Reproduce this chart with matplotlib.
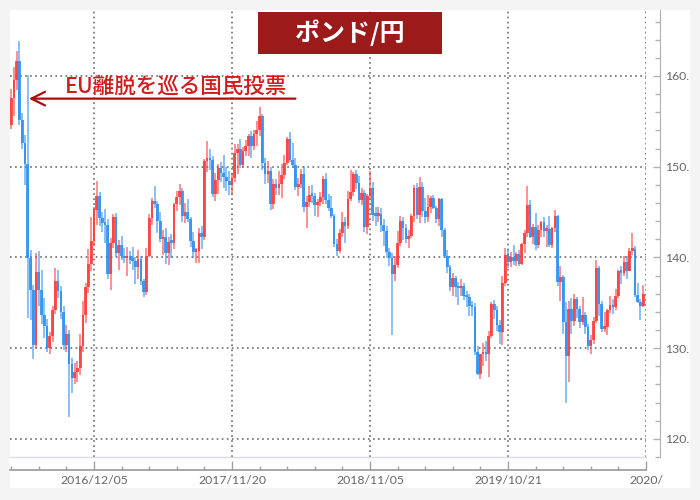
import matplotlib
matplotlib.use('Agg')
import matplotlib.pyplot as plt
import matplotlib.dates as mdates
from matplotlib.patches import Rectangle
import pandas as pd

plt.rcParams['font.family'] = ['Lato', 'Noto Sans CJK JP', 'DejaVu Sans']

# weekly GBP/JPY candles, first week 2016-05-09
start_week = '2016-05-09'

opens = [
    154.6, 157.6, 159.5, 161.6, 155.2, 152.6, 150.3, 139.9, 136.4, 130.4,
    138.4, 136.4, 133.6, 132.4, 130.0, 131.3, 134.2, 137.4, 136.3, 134.0,
    130.4, 131.6, 128.3, 126.7, 127.4, 127.8, 130.2, 133.6, 136.7, 139.3,
    141.8, 145.2, 146.8, 144.3, 143.8, 143.6, 138.2, 141.6, 144.4, 140.5,
    141.4, 140.2, 139.9, 140.2, 139.7, 139.6, 138.9, 139.8, 137.4, 136.2,
    140.2, 144.3, 146.2, 145.9, 144.0, 142.0, 142.2, 140.5, 141.7, 141.6,
    145.9, 146.7, 147.3, 144.6, 145.0, 144.2, 141.8, 140.6, 140.7, 142.7,
    142.2, 150.6, 151.0, 150.7, 147.0, 148.5, 149.8, 149.3, 148.9, 148.4,
    148.0, 148.7, 151.5, 151.9, 150.2, 151.7, 152.3, 153.4, 152.3, 153.6,
    154.0, 155.6, 150.4, 149.2, 149.5, 145.9, 148.1, 147.7, 148.1, 149.1,
    150.4, 153.0, 150.7, 150.2, 147.8, 148.1, 149.2, 145.6, 146.1, 146.9,
    146.8, 145.8, 146.1, 146.7, 148.6, 146.3, 145.5, 144.6, 141.5, 140.7,
    142.7, 143.9, 143.5, 146.4, 147.2, 149.2, 148.2, 146.3, 147.1, 143.3,
    146.8, 147.6, 144.7, 144.6, 144.8, 143.6, 142.9, 140.6, 139.9, 138.2,
    139.2, 141.6, 144.0, 143.2, 142.0, 142.4, 144.6, 147.6, 144.7, 147.8,
    145.1, 144.4, 145.6, 146.5, 145.5, 144.2, 146.4, 143.0, 140.2, 138.9,
    136.7, 137.7, 136.7, 136.6, 136.9, 135.8, 135.6, 134.6, 134.5, 129.6,
    127.1, 129.3, 129.5, 129.3, 131.3, 134.9, 134.2, 132.6, 131.8, 137.2,
    140.3, 139.5, 140.0, 139.6, 140.4, 139.3, 141.5, 142.7, 145.8, 142.3,
    143.3, 141.4, 143.0, 143.9, 142.9, 143.1, 141.4, 143.2, 144.6, 137.3,
    137.8, 132.9, 129.1, 134.3, 133.0, 135.4, 134.3, 132.9, 133.7, 132.3,
    130.2, 130.9, 133.0, 138.8, 134.9, 132.1, 132.3, 134.2, 134.8, 134.5,
    135.7, 138.5, 138.3, 139.5, 138.5, 140.7, 140.9, 135.9, 135.1, 134.6,
]
highs = [
    158.6, 161.0, 162.8, 163.9, 155.9, 153.5, 160.1, 140.8, 137.0, 140.5,
    140.7, 138.6, 135.5, 133.2, 131.8, 134.6, 138.8, 138.6, 136.8, 134.6,
    132.6, 132.0, 128.9, 128.4, 128.6, 131.6, 135.2, 137.2, 140.9, 144.5,
    145.6, 148.4, 147.2, 145.0, 145.3, 144.2, 142.1, 144.8, 144.9, 141.9,
    142.4, 141.0, 141.1, 140.7, 141.1, 140.0, 140.8, 140.2, 137.6, 141.0,
    144.8, 146.5, 147.9, 146.2, 145.0, 143.0, 143.2, 142.2, 142.6, 146.0,
    147.3, 148.1, 147.6, 146.0, 146.4, 144.4, 142.8, 141.0, 143.2, 143.5,
    150.9, 152.8, 152.0, 151.2, 149.3, 150.3, 150.5, 151.3, 150.0, 149.5,
    149.3, 152.5, 152.5, 153.0, 152.2, 152.9, 153.6, 153.9, 154.0, 155.0,
    156.6, 155.8, 151.0, 150.6, 150.0, 148.6, 148.6, 149.5, 150.3, 151.3,
    153.3, 153.8, 152.6, 151.0, 148.8, 149.7, 150.1, 146.8, 147.9, 148.0,
    147.1, 146.4, 147.2, 149.0, 149.3, 147.0, 146.8, 144.8, 142.0, 143.1,
    145.0, 144.5, 147.3, 149.6, 149.4, 149.6, 149.0, 147.6, 147.4, 147.0,
    149.5, 148.3, 145.6, 145.6, 145.5, 144.2, 143.5, 141.0, 140.5, 140.2,
    142.9, 144.6, 144.5, 143.7, 143.0, 144.8, 148.0, 148.2, 148.9, 148.3,
    146.6, 146.9, 146.8, 146.9, 145.7, 146.5, 146.6, 143.2, 140.8, 139.2,
    138.3, 138.0, 137.3, 137.6, 137.2, 136.3, 136.0, 135.2, 135.0, 130.2,
    129.4, 130.6, 130.8, 131.9, 135.1, 135.3, 134.6, 133.1, 137.9, 141.0,
    140.9, 140.6, 141.4, 140.6, 140.8, 141.6, 143.0, 147.9, 146.3, 143.7,
    144.9, 143.6, 144.0, 144.5, 143.6, 144.6, 143.3, 145.2, 144.7, 139.1,
    138.1, 135.1, 135.2, 135.5, 136.0, 135.6, 134.6, 135.6, 134.0, 132.7,
    131.5, 133.4, 139.7, 139.0, 135.2, 134.0, 134.3, 135.8, 135.4, 136.5,
    138.6, 139.0, 140.2, 140.2, 141.0, 142.7, 141.3, 137.2, 135.4, 137.0,
]
lows = [
    154.1, 155.6, 158.4, 154.6, 152.0, 148.0, 133.3, 133.1, 128.8, 130.0,
    134.6, 132.7, 131.1, 129.6, 129.3, 130.7, 133.8, 135.5, 133.2, 129.8,
    129.6, 122.4, 125.0, 126.0, 126.3, 127.0, 129.6, 132.8, 136.1, 138.5,
    141.3, 143.6, 143.5, 142.8, 141.6, 137.6, 136.4, 141.0, 140.0, 138.6,
    139.7, 139.4, 137.9, 139.3, 138.6, 137.1, 137.6, 137.0, 135.6, 135.9,
    140.0, 143.6, 145.4, 142.7, 141.7, 140.3, 139.3, 139.2, 139.9, 140.9,
    145.1, 145.8, 143.9, 143.8, 143.9, 141.1, 139.9, 139.4, 139.4, 140.9,
    141.9, 149.4, 149.6, 146.7, 146.2, 147.0, 148.3, 147.7, 147.3, 146.9,
    146.9, 148.3, 149.2, 149.8, 149.9, 151.2, 151.2, 151.0, 151.8, 152.3,
    153.4, 149.6, 148.1, 148.2, 145.2, 145.3, 146.9, 146.9, 146.5, 148.6,
    150.2, 150.5, 149.8, 147.4, 146.8, 147.6, 145.0, 143.2, 145.6, 146.0,
    144.6, 144.4, 145.7, 145.9, 145.9, 145.1, 144.3, 141.2, 140.2, 140.5,
    142.3, 141.6, 143.1, 146.2, 146.8, 147.5, 146.0, 145.8, 142.8, 142.6,
    146.3, 144.0, 143.5, 143.9, 142.8, 141.3, 139.9, 139.0, 131.5, 137.4,
    138.8, 141.3, 141.9, 141.6, 141.0, 142.1, 143.9, 144.2, 143.8, 144.4,
    143.8, 143.9, 144.9, 145.3, 143.8, 143.5, 142.3, 139.9, 138.3, 136.3,
    135.7, 135.6, 134.8, 135.8, 135.3, 134.5, 133.5, 133.5, 129.2, 127.0,
    126.6, 128.0, 128.6, 126.8, 131.1, 133.2, 131.9, 130.5, 130.4, 136.9,
    138.8, 138.9, 139.2, 139.1, 139.0, 139.2, 140.5, 142.2, 142.1, 141.5,
    140.8, 141.0, 142.2, 142.3, 141.1, 141.2, 141.0, 142.8, 136.9, 135.2,
    131.6, 124.0, 126.3, 131.6, 132.4, 133.3, 132.2, 132.5, 131.6, 129.8,
    129.3, 130.5, 132.8, 133.5, 131.8, 131.8, 131.5, 133.9, 133.8, 134.2,
    135.5, 137.1, 137.9, 137.6, 138.5, 140.3, 135.6, 135.0, 133.1, 134.5,
]
closes = [
    157.6, 159.5, 161.6, 155.2, 152.6, 150.3, 139.9, 136.4, 130.4, 138.4,
    136.4, 133.6, 132.4, 130.0, 131.3, 134.2, 137.4, 136.3, 134.0, 130.4,
    131.6, 128.3, 126.7, 127.4, 127.8, 130.2, 133.6, 136.7, 139.3, 141.8,
    145.2, 146.8, 144.3, 143.8, 143.6, 138.2, 141.6, 144.4, 140.5, 141.4,
    140.2, 139.9, 140.2, 139.7, 139.6, 138.9, 139.8, 137.4, 136.2, 140.2,
    144.3, 146.2, 145.9, 144.0, 142.0, 142.2, 140.5, 141.7, 141.6, 145.9,
    146.7, 147.3, 144.6, 145.0, 144.2, 141.8, 140.6, 140.7, 142.7, 142.2,
    150.6, 151.0, 150.7, 147.0, 148.5, 149.8, 149.3, 148.9, 148.4, 148.0,
    148.7, 151.5, 151.9, 150.2, 151.7, 152.3, 153.4, 152.3, 153.6, 154.0,
    155.6, 150.4, 149.2, 149.5, 145.9, 148.1, 147.7, 148.1, 149.1, 150.4,
    153.0, 150.7, 150.2, 147.8, 148.1, 149.2, 145.6, 146.1, 146.9, 146.8,
    145.8, 146.1, 146.7, 148.6, 146.3, 145.5, 144.6, 141.5, 140.7, 142.7,
    143.9, 143.5, 146.4, 147.2, 149.2, 148.2, 146.3, 147.1, 143.3, 146.8,
    147.6, 144.7, 144.6, 144.8, 143.6, 142.9, 140.6, 139.9, 138.2, 139.2,
    141.6, 144.0, 143.2, 142.0, 142.4, 144.6, 147.6, 144.7, 147.8, 145.1,
    144.4, 145.6, 146.5, 145.5, 144.2, 146.4, 143.0, 140.2, 138.9, 136.7,
    137.7, 136.7, 136.6, 136.9, 135.8, 135.6, 134.6, 134.5, 129.6, 127.1,
    129.3, 129.5, 129.3, 131.3, 134.9, 134.2, 132.6, 131.8, 137.2, 140.3,
    139.5, 140.0, 139.6, 140.4, 139.3, 141.5, 142.7, 145.8, 142.3, 143.3,
    141.4, 143.0, 143.9, 142.9, 143.1, 141.4, 143.2, 144.6, 137.3, 137.8,
    132.9, 129.1, 134.3, 133.0, 135.4, 134.3, 132.9, 133.7, 132.3, 130.2,
    130.9, 133.0, 138.8, 134.9, 132.1, 132.3, 134.2, 134.8, 134.5, 135.7,
    138.5, 138.3, 139.5, 138.5, 140.7, 140.9, 135.9, 135.1, 134.6, 136.0,
]

tick_dates = ['2016-12-05', '2017-11-20', '2018-11-05', '2019-10-21', '2020-10-05']
tick_labels = ['2016/12/05', '2017/11/20', '2018/11/05', '2019/10/21', '2020/']
y_ticks = [120, 130, 140, 150, 160]
y_labels = ['120.', '130.', '140.', '150.', '160.']
title = 'ポンド/円'
note = 'EU離脱を巡る国民投票'
vote_day = '2016-06-23'

up_col = '#ff3838'
down_col = '#2a8ef0'

dates = pd.date_range(start_week, periods=len(closes), freq='7D')
x = mdates.date2num(dates)
cols = [up_col if c >= o else down_col for o, c in zip(opens, closes)]

fig = plt.figure(figsize=(7, 5), dpi=100, facecolor='#f4f4f4')
fig.patches.append(Rectangle((10 / 700, 12 / 500), 680 / 700, 478 / 500,
                             transform=fig.transFigure, facecolor='white',
                             edgecolor='none', zorder=-5))

ax = fig.add_axes([10 / 700, 43 / 500, 636 / 700, 447 / 500])
ax.set_facecolor('none')

# candles
ax.vlines(x, lows, highs, colors=cols, linewidth=1.1, alpha=0.7, zorder=3)
bottoms = [min(o, c) for o, c in zip(opens, closes)]
heights = [max(abs(c - o), 0.3) for o, c in zip(opens, closes)]
ax.bar(x, heights, bottom=bottoms, width=6.8, color=cols, alpha=0.85,
       linewidth=0, zorder=4)

ax.set_xlim(mdates.date2num(pd.Timestamp('2016-05-06')),
            mdates.date2num(pd.Timestamp('2020-10-05')))
ax.set_ylim(118.02, 167.27)

# axes / ticks
ax.set_xticks(mdates.date2num(pd.to_datetime(tick_dates)))
ax.set_xticklabels(tick_labels)
ax.set_xticks(mdates.date2num(pd.date_range('2016-05-09', '2020-10-05', freq='70D')), minor=True)
ax.get_xticklabels()[-1].set_horizontalalignment('right')
ax.yaxis.tick_right()
ax.set_yticks(y_ticks)
ax.set_yticklabels(y_labels)
ax.set_yticks(range(118, 168, 2), minor=True)

ax.grid(True, which='major', color='#606060', linestyle=(0, (1.1, 2.2)), linewidth=1.1)

for s in ['top', 'left']:
    ax.spines[s].set_visible(False)
ax.spines['bottom'].set_position(('outward', 9))
ax.spines['right'].set_position(('outward', 10))
ax.spines['bottom'].set_color('#9a9a9a')
ax.spines['right'].set_color('#b0b0b0')
ax.spines['bottom'].set_linewidth(1.2)

ax.tick_params(axis='x', which='major', direction='in', length=6.5, width=1,
               color='#a0a0a0', labelsize=8.8, labelcolor='#666666', pad=4)
ax.tick_params(axis='x', which='minor', direction='in', length=3, width=1, color='#a0a0a0')
ax.tick_params(axis='y', which='major', direction='in', length=5, width=1,
               color='#b0b0b0', labelsize=8.8, labelcolor='#666666', pad=4)
ax.tick_params(axis='y', which='minor', direction='in', length=3.5, width=1, color='#b0b0b0')
ax.plot([0, 1], [0, 0], transform=ax.transAxes, color='#dcdce4', lw=1, clip_on=False)

# referendum marker
ax.annotate('', xy=(mdates.date2num(pd.Timestamp(vote_day)), 157.5),
            xytext=(mdates.date2num(pd.Timestamp('2018-04-30')), 157.5),
            arrowprops=dict(arrowstyle='->,head_length=0.7,head_width=0.35',
                            color='#a80f0f', lw=1.6, shrinkA=0, shrinkB=0,
                            mutation_scale=14), zorder=6)
fig.text(176 / 700, 1 - 87 / 500, note, color='#d41a1a', fontsize=15.5,
         ha='center', va='center', family=['Noto Sans CJK JP'], fontweight='medium')

# title box
fig.patches.append(Rectangle((258 / 700, 1 - 54 / 500), 184 / 700, 42 / 500,
                             transform=fig.transFigure, facecolor='#9d1a1a',
                             edgecolor='none', zorder=5))
fig.text(350 / 700, 1 - 33 / 500, title, color='white', fontsize=18,
         fontweight='bold', ha='center', va='center', family=['Noto Sans CJK JP'],
         zorder=6)

fig.savefig('out.png', dpi=100, facecolor=fig.get_facecolor())
